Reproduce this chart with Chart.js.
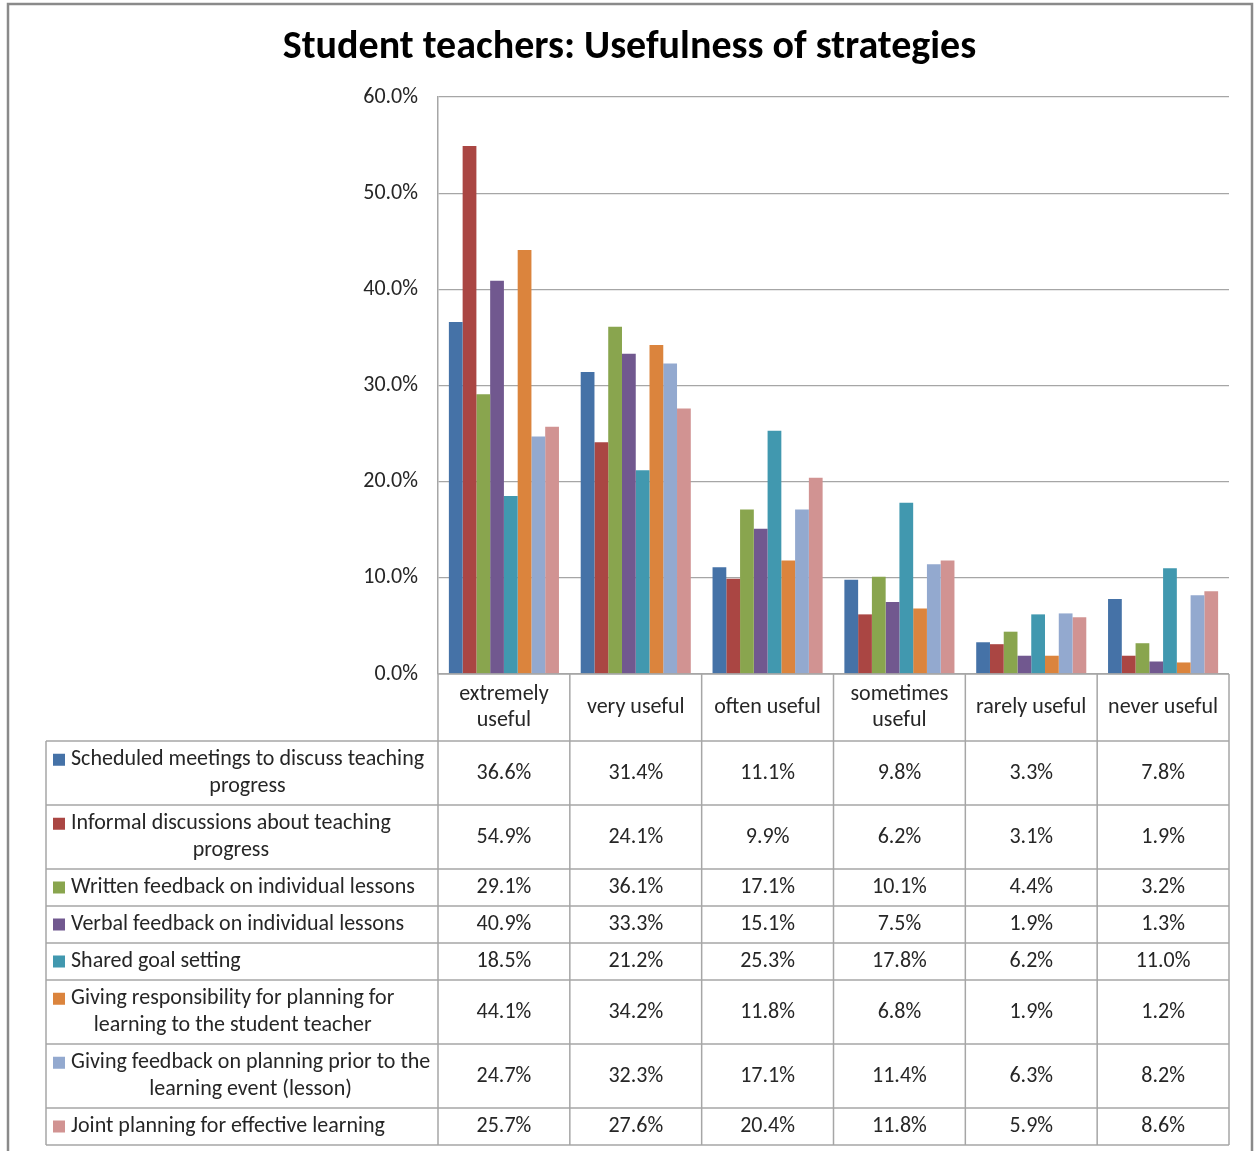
<!DOCTYPE html>
<html>
<head>
<meta charset="utf-8">
<script src="https://cdn.jsdelivr.net/npm/chart.js@4.4.1/dist/chart.umd.min.js"></script>
<style>
  html, body { margin: 0; padding: 0; background: #ffffff; }
  #wrap { position: relative; width: 1255px; height: 1151px; }
</style>
</head>
<body>
<div id="wrap"><canvas id="c" width="1255" height="1151"></canvas></div>
<script>
// ---- Data ----
const chartTitle = 'Student teachers: Usefulness of strategies';
const categories = ['extremely\nuseful', 'very useful', 'often useful', 'sometimes\nuseful', 'rarely useful', 'never useful'];
const seriesNames = [
  'Scheduled meetings to discuss teaching\nprogress',
  'Informal discussions about teaching\nprogress',
  'Written feedback on individual lessons',
  'Verbal feedback on individual lessons',
  'Shared goal setting',
  'Giving responsibility for planning for\nlearning to the student teacher',
  'Giving feedback on planning prior to the\nlearning event (lesson)',
  'Joint planning for effective learning'
];
const scheduledMeetings   = [36.6, 31.4, 11.1, 9.8, 3.3, 7.8];
const informalDiscussions = [54.9, 24.1, 9.9, 6.2, 3.1, 1.9];
const writtenFeedback     = [29.1, 36.1, 17.1, 10.1, 4.4, 3.2];
const verbalFeedback      = [40.9, 33.3, 15.1, 7.5, 1.9, 1.3];
const sharedGoalSetting   = [18.5, 21.2, 25.3, 17.8, 6.2, 11.0];
const givingResponsibility = [44.1, 34.2, 11.8, 6.8, 1.9, 1.2];
const feedbackOnPlanning  = [24.7, 32.3, 17.1, 11.4, 6.3, 8.2];
const jointPlanning       = [25.7, 27.6, 20.4, 11.8, 5.9, 8.6];
const yTicks = [0, 10, 20, 30, 40, 50, 60];

const seriesValues = [scheduledMeetings, informalDiscussions, writtenFeedback, verbalFeedback,
  sharedGoalSetting, givingResponsibility, feedbackOnPlanning, jointPlanning];
const seriesColors = ['#4572A7', '#AA4643', '#89A54E', '#71588F', '#4198AF', '#DB843D', '#93A9CF', '#D19392'];

const FONT = 'Carlito, Lato, "Liberation Sans", sans-serif';
const GRID = '#a6a6a6';
const TXT = '#262626';
const TSIZE = 22;

const tablePlugin = {
  id: 'dataTable',
  beforeDraw(chart) {
    const ctx = chart.ctx;
    ctx.save();
    ctx.fillStyle = '#ffffff';
    ctx.fillRect(0, 0, chart.width, chart.height);
    ctx.restore();
  },
  afterDraw(chart) {
    const ctx = chart.ctx;
    const ca = chart.chartArea;
    const xs = chart.scales.x;
    const n = categories.length;
    const cw = (ca.right - ca.left) / n;
    const bounds = [];
    for (let i = 0; i < n; i++) bounds.push(xs.getPixelForValue(i) - cw / 2);
    bounds.push(ca.right);
    const tableLeft = 46;
    const headerH = 67;
    const lineH = 26.5;
    const rowTops = [ca.bottom + headerH];
    seriesNames.forEach(nm => {
      const lines = nm.split('\n').length;
      rowTops.push(rowTops[rowTops.length - 1] + (lines > 1 ? 64 : 37));
    });
    const bottom = rowTops[rowTops.length - 1];

    ctx.save();
    // outer frame of the chart object
    ctx.strokeStyle = '#8a8a8a';
    ctx.lineWidth = 2.5;
    ctx.beginPath();
    ctx.moveTo(8, chart.height);
    ctx.lineTo(8, 4);
    ctx.lineTo(1252, 4);
    ctx.lineTo(1252, chart.height);
    ctx.stroke();

    // table lines
    ctx.strokeStyle = GRID;
    ctx.lineWidth = 1.5;
    ctx.beginPath();
    ctx.moveTo(ca.left, ca.bottom); ctx.lineTo(ca.right, ca.bottom);
    rowTops.forEach(y => { ctx.moveTo(tableLeft, y); ctx.lineTo(ca.right, y); });
    bounds.forEach(x => { ctx.moveTo(x, ca.bottom); ctx.lineTo(x, bottom); });
    ctx.moveTo(tableLeft, rowTops[0]); ctx.lineTo(tableLeft, bottom);
    ctx.stroke();

    ctx.fillStyle = TXT;
    ctx.textBaseline = 'middle';
    ctx.textAlign = 'center';
    ctx.font = TSIZE + 'px ' + FONT;
    // header labels
    categories.forEach((c, i) => {
      const lines = c.split('\n');
      const cx = xs.getPixelForValue(i);
      const cy = ca.bottom + headerH / 2;
      lines.forEach((ln, k) => {
        ctx.fillText(ln, cx, cy + (k - (lines.length - 1) / 2) * lineH);
      });
    });
    // rows
    seriesNames.forEach((nm, r) => {
      const top = rowTops[r], bot = rowTops[r + 1];
      const cy = (top + bot) / 2;
      const lines = nm.split('\n');
      const firstY = cy - (lines.length - 1) / 2 * lineH;
      // legend key
      ctx.fillStyle = seriesColors[r];
      ctx.fillRect(53, firstY - 6, 12, 12);
      ctx.fillStyle = TXT;
      const textLeft = 71;
      const maxW = Math.max(...lines.map(l => ctx.measureText(l).width));
      lines.forEach((ln, k) => {
        ctx.textAlign = 'center';
        ctx.fillText(ln, textLeft + maxW / 2, firstY + k * lineH);
      });
      ctx.textAlign = 'center';
      seriesValues[r].forEach((v, i) => {
        ctx.fillText(v.toFixed(1) + '%', xs.getPixelForValue(i), cy);
      });
    });
    ctx.restore();
  }
};

const chart = new Chart(document.getElementById('c'), {
  type: 'bar',
  data: {
    labels: categories,
    datasets: seriesNames.map((nm, i) => ({
      label: nm.replace('\n', ' '),
      data: seriesValues[i],
      backgroundColor: seriesColors[i],
      borderWidth: 0,
      barPercentage: 1.0,
      categoryPercentage: 0.835
    }))
  },
  plugins: [tablePlugin],
  options: {
    responsive: false,
    animation: false,
    devicePixelRatio: 1,
    layout: { padding: { left: 30, right: 26, top: 0, bottom: 477 } },
    plugins: {
      legend: { display: false },
      tooltip: { enabled: false },
      title: {
        display: true,
        text: chartTitle,
        color: '#000000',
        font: { family: FONT, size: 40, weight: 'bold', lineHeight: 1.2 },
        padding: { top: 24, bottom: 25 }
      }
    },
    scales: {
      x: {
        ticks: { display: false },
        grid: { display: false, drawTicks: false },
        border: { display: false }
      },
      y: {
        min: 0,
        max: 60,
        afterFit(scale) { scale.width = 408; },
        afterBuildTicks(scale) { scale.ticks = yTicks.map(v => ({ value: v })); },
        ticks: {
          padding: 20,
          color: TXT,
          font: { family: FONT, size: TSIZE },
          callback: v => Number(v).toFixed(1) + '%'
        },
        grid: { color: GRID, lineWidth: 1.2, drawTicks: false },
        border: { display: true, color: GRID, width: 1.5 }
      }
    }
  }
});
</script>
</body>
</html>
